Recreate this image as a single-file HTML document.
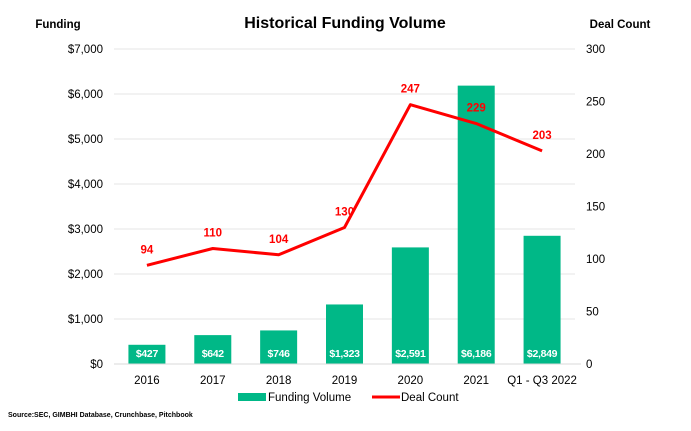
<!DOCTYPE html>
<html><head><meta charset="utf-8"><style>
body{margin:0;background:#fff;font-family:"Liberation Sans",sans-serif;}
svg text{font-family:"Liberation Sans",sans-serif;}
</style></head><body>
<svg id="c" width="691" height="426">
<text x="345" y="28" text-anchor="middle" font-size="16" font-weight="bold">Historical Funding Volume</text>
<text x="58" y="28" text-anchor="middle" font-size="11.5" font-weight="bold">Funding</text>
<text x="620" y="28" text-anchor="middle" font-size="11.5" font-weight="bold">Deal Count</text>
<g id="g"></g>
<rect x="238" y="393" width="28" height="8" fill="#00b887"/>
<text x="268" y="401" font-size="11.5">Funding Volume</text>
<line x1="372" y1="397" x2="400" y2="397" stroke="#f00" stroke-width="3"/>
<text x="401" y="401" font-size="11.5">Deal Count</text>
<text x="8" y="417" font-size="7" font-weight="bold">Source:SEC, GIMBHI Database, Crunchbase, Pitchbook</text>
</svg>
<script>
const categories=["2016","2017","2018","2019","2020","2021","Q1 - Q3 2022"];
const funding=[427,642,746,1323,2591,6186,2849];
const fundingLabels=["$427","$642","$746","$1,323","$2,591","$6,186","$2,849"];
const deals=[94,110,104,130,247,229,203];
const leftTicks=[0,1000,2000,3000,4000,5000,6000,7000];
const leftTickLabels=["$0","$1,000","$2,000","$3,000","$4,000","$5,000","$6,000","$7,000"];
const rightTicks=[0,50,100,150,200,250,300];
const NS="http://www.w3.org/2000/svg";
const g=document.getElementById('g');
const x0=114,x1=575,yb=364,yt=49;
const bw=(x1-x0)/categories.length;
const xc=i=>x0+bw*(i+0.5);
const yL=v=>yb-(v/7000)*(yb-yt);
const yR=v=>yb-(v/300)*(yb-yt);
function mk(t,a,txt){const e=document.createElementNS(NS,t);for(const k in a)e.setAttribute(k,a[k]);if(txt!=null)e.textContent=txt;g.appendChild(e);return e;}
leftTicks.forEach((v,i)=>{
 const e=mk('text',{x:103,y:yL(v)+4,'text-anchor':'end','font-size':11.5},leftTickLabels[i]);
 
 
 if(v>0){const l=mk('line',{x1:x0,x2:x1,y1:yL(v),y2:yL(v),stroke:'#e6e6e6','stroke-width':1});
 
 }
});
rightTicks.forEach(v=>{
 const e=mk('text',{x:586,y:yR(v)+4,'font-size':11.5},String(v));
 
 
});
categories.forEach((c,i)=>{
 const r=mk('rect',{x:xc(i)-18.5,y:yL(funding[i]),width:37,height:yb-yL(funding[i]),fill:'#00b887'});
 
 
 const t=mk('text',{x:xc(i),y:yb-7,'text-anchor':'middle','font-size':10.5,'font-weight':'bold',fill:'#fff','letter-spacing':'-0.3'},fundingLabels[i]);
 
 
 const xl=mk('text',{x:xc(i),y:yb+20,'text-anchor':'middle','font-size':11.5},c);
 
 
});
const ax=mk('line',{x1:x0,x2:x1+6,y1:yb,y2:yb,stroke:'#d9d9d9','stroke-width':1});


const pl=mk('polyline',{points:deals.map((d,i)=>xc(i)+','+yR(d)).join(' '),fill:'none',stroke:'#f00','stroke-width':3,'stroke-linejoin':'round'});


deals.forEach((d,i)=>{
 const t=mk('text',{x:xc(i),y:yR(d)-12,'text-anchor':'middle','font-size':11.5,'font-weight':'bold',fill:'#f00'},String(d));
 
 
});
</script>
</body></html>
